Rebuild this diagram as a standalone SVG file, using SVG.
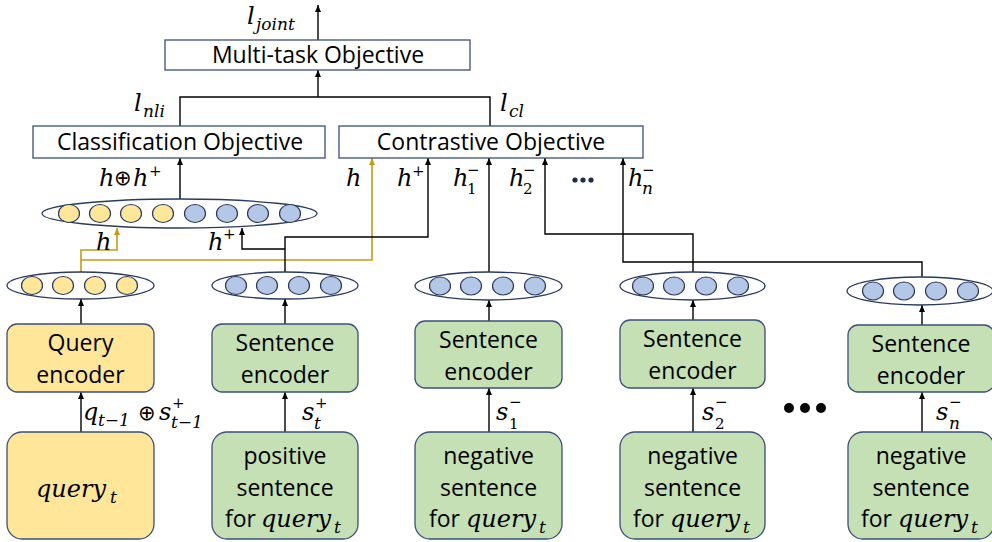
<svg xmlns="http://www.w3.org/2000/svg" width="992" height="542" viewBox="0 0 992 542">
<defs>
<marker id="ab" markerUnits="userSpaceOnUse" markerWidth="8" markerHeight="8" refX="7" refY="3" orient="auto"><path d="M0,0 L7,3 L0,6 z" fill="#000"/></marker>
<marker id="ay" markerUnits="userSpaceOnUse" markerWidth="8" markerHeight="8" refX="7" refY="3" orient="auto"><path d="M0,0 L7,3 L0,6 z" fill="#C49A14"/></marker>
<style>
.box{fill:#fff;stroke:#3B4F7A;stroke-width:1.3}
.yb{fill:#FFE699;stroke:#3B4F7A;stroke-width:1.3}
.gb{fill:#C5E0B4;stroke:#3B4F7A;stroke-width:1.3}
.el{fill:#fff;stroke:#2A3A5E;stroke-width:1.3}
.yc{fill:#FFE699;stroke:#2A3A5E;stroke-width:1.2}
.bc{fill:#B4C7E7;stroke:#2A3A5E;stroke-width:1.2}
.ln{fill:none;stroke:#000;stroke-width:1.4;marker-end:url(#ab)}
.lp{fill:none;stroke:#000;stroke-width:1.4}
.lya{fill:none;stroke:#C49A14;stroke-width:1.6;marker-end:url(#ay)}
.t{font-family:"Open Sans","Liberation Sans",sans-serif;font-size:23px;text-anchor:middle;fill:#000}
.ts{font-family:"Open Sans","Liberation Sans",sans-serif;font-size:23px;fill:#000}
.m{font-family:"DejaVu Serif",serif;font-style:italic;font-size:24px;fill:#000}
.sb{font-family:"DejaVu Serif",serif;font-style:italic;font-size:17px;fill:#000}
.su{font-family:"DejaVu Serif",serif;font-size:15px;fill:#000}
.op{font-family:"DejaVu Sans",sans-serif;font-size:21px;fill:#000}
</style>
</defs>

<g id="connectors">
<line class="ln" x1="318" y1="40" x2="318" y2="5"/>
<polyline class="lp" points="180,126 180,97 490,97 490,126"/>
<line class="ln" x1="318" y1="97" x2="318" y2="70"/>
<line class="ln" x1="180" y1="199" x2="180" y2="158"/>
<polyline class="lya" points="81,272 81,250 117,250 117,228"/>
<polyline class="lya" points="81,260 372,260 372,158"/>
<polyline class="ln" points="285,272 285,237 428,237 428,158"/>
<polyline class="ln" points="285,249 242,249 242,228"/>
<line class="ln" x1="489" y1="272" x2="489" y2="158"/>
<polyline class="ln" points="693,272 693,234 545,234 545,158"/>
<polyline class="ln" points="922,277 922,262 623,262 623,158"/>
<line class="ln" x1="81" y1="324" x2="81" y2="299"/>
<line class="ln" x1="285" y1="324" x2="285" y2="299"/>
<line class="ln" x1="489" y1="321" x2="489" y2="300"/>
<line class="ln" x1="693" y1="320" x2="693" y2="300"/>
<line class="ln" x1="922" y1="325" x2="922" y2="305"/>
<line class="ln" x1="81" y1="432" x2="81" y2="392"/>
<line class="ln" x1="285" y1="432" x2="285" y2="392"/>
<line class="ln" x1="489" y1="432" x2="489" y2="388"/>
<line class="ln" x1="693" y1="432" x2="693" y2="388"/>
<line class="ln" x1="922" y1="432" x2="922" y2="392"/>
</g>

<g id="labels">
<text class="m" x="247" y="24">l</text><text class="sb" x="256" y="30">joint</text>
<text class="m" x="134" y="111">l</text><text class="sb" x="143" y="117">nli</text>
<text class="m" x="500" y="111">l</text><text class="sb" x="509" y="117">cl</text>
<text class="m" x="99" y="186">h</text><text class="op" x="114" y="185">⊕</text><text class="m" x="133" y="186">h</text><text class="su" x="149" y="176">+</text>
<text class="m" x="346" y="186">h</text>
<text class="m" x="397" y="186">h</text><text class="su" x="412" y="176">+</text>
<text class="m" x="453" y="186">h</text><text class="su" x="467" y="175">−</text><text class="su" x="467" y="194">1</text>
<text class="m" x="509" y="186">h</text><text class="su" x="523" y="175">−</text><text class="su" x="523" y="194">2</text>
<text class="m" x="628" y="186">h</text><text class="su" x="642" y="175">−</text><text class="sb" x="642" y="194">n</text>
<circle cx="575" cy="180" r="2.6" fill="#1F2A44"/><circle cx="583" cy="180" r="2.6" fill="#1F2A44"/><circle cx="591" cy="180" r="2.6" fill="#1F2A44"/>
<text class="m" x="96" y="250">h</text>
<text class="m" x="208" y="250">h</text><text class="su" x="223" y="239">+</text>
<text class="m" x="83" y="420">q</text><text class="sb" x="98" y="426">t−1</text>
<text class="op" x="138" y="420">⊕</text><text class="m" x="159" y="420">s</text><text class="su" x="172" y="408">+</text><text class="sb" x="171" y="428">t−1</text>
<text class="m" x="302" y="420">s</text><text class="su" x="315" y="408">+</text><text class="sb" x="314" y="429">t</text>
<text class="m" x="496" y="420">s</text><text class="su" x="509" y="407">−</text><text class="su" x="509" y="429">1</text>
<text class="m" x="702" y="420">s</text><text class="su" x="715" y="407">−</text><text class="su" x="715" y="429">2</text>
<text class="m" x="936" y="420">s</text><text class="su" x="949" y="407">−</text><text class="sb" x="949" y="429">n</text>
<circle cx="789" cy="408" r="5" fill="#000"/><circle cx="805" cy="408" r="5" fill="#000"/><circle cx="821" cy="408" r="5" fill="#000"/>
</g>

<g id="multitask"><rect class="box" x="165" y="40" width="305" height="30"/><text class="t" x="318" y="63">Multi-task Objective</text></g>
<g id="classification"><rect class="box" x="33" y="126" width="292" height="32"/><text class="t" x="180" y="150">Classification Objective</text></g>
<g id="contrastive"><rect class="box" x="339" y="126" width="304" height="32"/><text class="t" x="491" y="150">Contrastive Objective</text></g>

<g id="concat-vec">
<ellipse class="el" cx="179.5" cy="213.5" rx="137.5" ry="14.5"/>
<ellipse class="yc" cx="69" cy="213.5" rx="10.5" ry="9"/><ellipse class="yc" cx="100" cy="213.5" rx="10.5" ry="9"/><ellipse class="yc" cx="131" cy="213.5" rx="10.5" ry="9"/><ellipse class="yc" cx="163" cy="213.5" rx="10.5" ry="9"/>
<ellipse class="bc" cx="195" cy="213.5" rx="10.5" ry="9"/><ellipse class="bc" cx="227" cy="213.5" rx="10.5" ry="9"/><ellipse class="bc" cx="258" cy="213.5" rx="10.5" ry="9"/><ellipse class="bc" cx="290" cy="213.5" rx="10.5" ry="9"/>
</g>

<g id="query-vec">
<ellipse class="el" cx="80.5" cy="285.5" rx="73.5" ry="13.5"/>
<ellipse class="yc" cx="32" cy="285.5" rx="10.5" ry="9"/><ellipse class="yc" cx="63" cy="285.5" rx="10.5" ry="9"/><ellipse class="yc" cx="95" cy="285.5" rx="10.5" ry="9"/><ellipse class="yc" cx="127" cy="285.5" rx="10.5" ry="9"/>
</g>
<g id="pos-vec">
<ellipse class="el" cx="285" cy="285.5" rx="73" ry="13.5"/>
<ellipse class="bc" cx="236" cy="285.5" rx="10.5" ry="9"/><ellipse class="bc" cx="267" cy="285.5" rx="10.5" ry="9"/><ellipse class="bc" cx="299" cy="285.5" rx="10.5" ry="9"/><ellipse class="bc" cx="331" cy="285.5" rx="10.5" ry="9"/>
</g>
<g id="neg1-vec">
<ellipse class="el" cx="488.5" cy="286" rx="73.5" ry="14"/>
<ellipse class="bc" cx="440" cy="286" rx="10.5" ry="9"/><ellipse class="bc" cx="471" cy="286" rx="10.5" ry="9"/><ellipse class="bc" cx="503" cy="286" rx="10.5" ry="9"/><ellipse class="bc" cx="535" cy="286" rx="10.5" ry="9"/>
</g>
<g id="neg2-vec">
<ellipse class="el" cx="692.5" cy="286" rx="72.5" ry="14"/>
<ellipse class="bc" cx="643" cy="286" rx="10.5" ry="9"/><ellipse class="bc" cx="674" cy="286" rx="10.5" ry="9"/><ellipse class="bc" cx="706" cy="286" rx="10.5" ry="9"/><ellipse class="bc" cx="738" cy="286" rx="10.5" ry="9"/>
</g>
<g id="negn-vec">
<ellipse class="el" cx="920" cy="291" rx="73" ry="14"/>
<ellipse class="bc" cx="873" cy="291" rx="10.5" ry="9"/><ellipse class="bc" cx="904" cy="291" rx="10.5" ry="9"/><ellipse class="bc" cx="936" cy="291" rx="10.5" ry="9"/><ellipse class="bc" cx="968" cy="291" rx="10.5" ry="9"/>
</g>

<g id="query-encoder"><rect class="yb" x="7" y="324" width="147" height="68" rx="10"/><text class="t" x="80.5" y="351">Query</text><text class="t" x="80.5" y="383">encoder</text></g>
<g id="pos-encoder"><rect class="gb" x="212" y="324" width="146" height="68" rx="10"/><text class="t" x="285" y="351">Sentence</text><text class="t" x="285" y="383">encoder</text></g>
<g id="neg1-encoder"><rect class="gb" x="415" y="321" width="147" height="67" rx="10"/><text class="t" x="488.5" y="348">Sentence</text><text class="t" x="488.5" y="380">encoder</text></g>
<g id="neg2-encoder"><rect class="gb" x="620" y="320" width="145" height="68" rx="10"/><text class="t" x="692.5" y="347">Sentence</text><text class="t" x="692.5" y="379">encoder</text></g>
<g id="negn-encoder"><rect class="gb" x="848" y="325" width="146" height="67" rx="10"/><text class="t" x="921" y="352">Sentence</text><text class="t" x="921" y="384">encoder</text></g>

<g id="query-input"><rect class="yb" x="7" y="432" width="147" height="107" rx="15"/><text class="m" x="36" y="497">query</text><text class="sb" x="110" y="503">t</text></g>
<g id="pos-input"><rect class="gb" x="212" y="432" width="146" height="107" rx="15"/><text class="t" x="285" y="464">positive</text><text class="t" x="285" y="496">sentence</text><text class="ts" x="225" y="527">for</text><text class="m" x="261" y="527">query</text><text class="sb" x="334" y="533">t</text></g>
<g id="neg1-input"><rect class="gb" x="415" y="432" width="147" height="107" rx="15"/><text class="t" x="488.5" y="464">negative</text><text class="t" x="488.5" y="496">sentence</text><text class="ts" x="429" y="527">for</text><text class="m" x="466" y="527">query</text><text class="sb" x="539" y="533">t</text></g>
<g id="neg2-input"><rect class="gb" x="620" y="432" width="145" height="107" rx="15"/><text class="t" x="692.5" y="464">negative</text><text class="t" x="692.5" y="496">sentence</text><text class="ts" x="633" y="527">for</text><text class="m" x="670" y="527">query</text><text class="sb" x="743" y="533">t</text></g>
<g id="negn-input"><rect class="gb" x="848" y="432" width="146" height="107" rx="15"/><text class="t" x="921" y="464">negative</text><text class="t" x="921" y="496">sentence</text><text class="ts" x="861" y="527">for</text><text class="m" x="898" y="527">query</text><text class="sb" x="971" y="533">t</text></g>
</svg>
